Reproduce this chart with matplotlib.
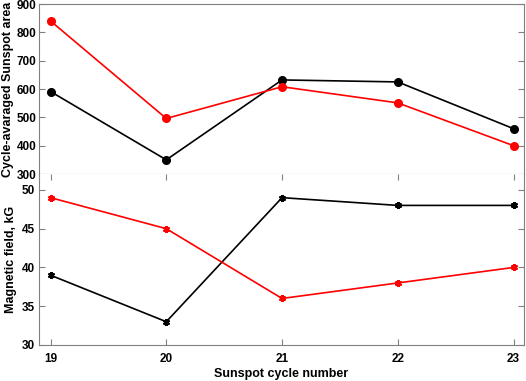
import matplotlib
matplotlib.use('Agg')
import matplotlib.pyplot as plt

plt.rcParams['font.family'] = ['Liberation Sans', 'DejaVu Sans']
plt.rcParams['font.weight'] = 'bold'

# sunspot cycles
cycles = [19, 20, 21, 22, 23]

# cycle-averaged sunspot area
area_red = [840, 496, 608, 551, 400]
area_black = [591, 350, 632, 625, 460]

# magnetic field, kG
field_red = [49, 45, 36, 38, 40]
field_black = [39, 33, 49, 48, 48]

fig = plt.figure(figsize=(5.26, 3.81), dpi=100)
ax1 = fig.add_axes([0.0741, 0.5433, 0.922, 0.4462])
ax2 = fig.add_axes([0.0741, 0.0945, 0.922, 0.449])

grey = '#808080'

# Top panel: sunspot area
ax1.plot(cycles, area_black, color='black', lw=1.2, marker='o', ms=5.5)
ax1.plot(cycles, area_red, color='red', lw=1.2, marker='o', ms=5.5)
ax1.set_xlim(18.9, 23.09)
ax1.set_ylim(300, 900)
ax1.set_yticks([300, 400, 500, 600, 700, 800, 900])
ax1.set_xticks([])
ax1.set_ylabel('Cycle-avaraged Sunspot area', fontsize=9, fontweight='bold', labelpad=2)
ax1.tick_params(axis='y', direction='in', right=True, labelsize=8.5, length=4,
                color=grey, pad=2)

# Bottom panel: magnetic field
ax2.plot(cycles, field_black, color='black', lw=1.2, marker=(6, 2, 0), ms=5, mew=1.5)
ax2.plot(cycles, field_red, color='red', lw=1.2, marker=(6, 2, 0), ms=5, mew=1.5)
ax2.set_xlim(18.9, 23.09)
ax2.set_ylim(30, 52.06)
ax2.set_yticks([30, 35, 40, 45, 50])
ax2.set_xticks(cycles)
ax2.set_xlabel('Sunspot cycle number', fontsize=9, fontweight='bold', labelpad=2)
ax2.set_ylabel('Magnetic field, kG', fontsize=9, fontweight='bold', labelpad=3)
ax2.tick_params(direction='in', right=True, top=True, labelsize=8.5, length=4,
                color=grey, pad=3)
ax2.tick_params(axis='x', pad=6)
ax2.spines['top'].set_visible(False)

for ax in (ax1, ax2):
    for s in ax.spines.values():
        s.set_color(grey)
        s.set_linewidth(0.8)

fig.savefig('out.png', dpi=100)
